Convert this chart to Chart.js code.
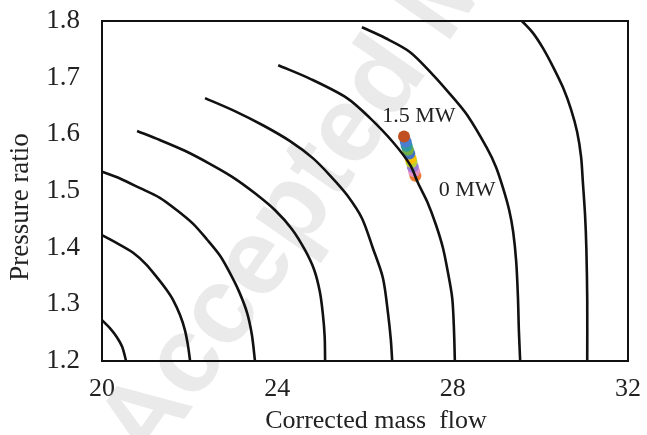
<!DOCTYPE html>
<html>
<head>
<meta charset="utf-8">
<script src="https://cdn.jsdelivr.net/npm/chart.js@4.4.1/dist/chart.umd.min.js"></script>
<style>
  html, body { margin: 0; padding: 0; background: #fff; }
  #wrap { width: 647px; height: 435px; }
</style>
</head>
<body>
<div id="wrap"><canvas id="map" width="647" height="435"></canvas></div>
<script>
// Compressor map: constant-speed lines (corrected mass flow vs pressure ratio)
const speedLine1 = [[20.0, 1.272], [20.18, 1.258], [20.34, 1.242], [20.46, 1.225], [20.55, 1.2]];
const speedLine2 = [[20.0, 1.422], [20.34, 1.408], [20.71, 1.391], [21.00, 1.371], [21.25, 1.348], [21.46, 1.327],
                    [21.62, 1.308], [21.78, 1.281], [21.89, 1.255], [21.96, 1.228], [22.01, 1.2]];
const speedLine3 = [[20.0, 1.534], [20.41, 1.522], [20.87, 1.505], [21.32, 1.488], [21.71, 1.466], [22.08, 1.442],
                    [22.40, 1.414], [22.69, 1.386], [22.92, 1.355], [23.13, 1.322], [23.31, 1.285], [23.42, 1.246], [23.49, 1.2]];
const speedLine4 = [[20.80, 1.606], [21.32, 1.590], [21.89, 1.571], [22.46, 1.548], [22.97, 1.525], [23.49, 1.496],
                    [23.95, 1.466], [24.33, 1.433], [24.63, 1.396], [24.84, 1.361], [24.97, 1.322], [25.04, 1.282],
                    [25.08, 1.243], [25.09, 1.2]];
const speedLine5 = [[22.35, 1.664], [23.03, 1.641], [23.67, 1.616], [24.29, 1.588], [24.81, 1.558], [25.22, 1.526],
                    [25.59, 1.493], [25.93, 1.452], [26.18, 1.399], [26.41, 1.346], [26.53, 1.281], [26.59, 1.237], [26.62, 1.2]];
const speedLine6 = [[24.02, 1.722], [24.75, 1.698], [25.59, 1.664], [26.11, 1.629], [26.64, 1.586], [27.03, 1.546],
                    [27.21, 1.514], [27.42, 1.481], [27.62, 1.440], [27.78, 1.399], [27.89, 1.357], [27.99, 1.311],
                    [28.03, 1.255], [28.05, 1.2]];
const speedLine7 = [[25.93, 1.789], [26.46, 1.770], [27.03, 1.745], [27.55, 1.705], [27.94, 1.671], [28.33, 1.634],
                    [28.78, 1.576], [28.99, 1.542], [29.15, 1.505], [29.29, 1.466], [29.38, 1.428], [29.45, 1.375],
                    [29.49, 1.311], [29.51, 1.255], [29.54, 1.2]];
const speedLine8 = [[29.58, 1.800], [29.83, 1.779], [30.06, 1.752], [30.29, 1.719], [30.52, 1.682], [30.70, 1.644],
                    [30.84, 1.604], [30.93, 1.560], [30.97, 1.516], [31.02, 1.458], [31.05, 1.399], [31.07, 1.307], [31.07, 1.2]];

// Operating points from 0 MW (first) to 1.5 MW (last)
const opFlow  = [27.15, 27.12, 27.09, 27.06, 27.04, 27.01, 26.98, 26.95, 26.93, 26.89];
const opRatio = [1.527, 1.535, 1.543, 1.551, 1.558, 1.566, 1.573, 1.580, 1.587, 1.596];
const opColors = ['#ed7d31', '#e58fc4', '#9b7bd6', '#b7d234', '#ffc000', '#4472c4', '#70ad47', '#2f9c9c', '#4a7fd0', '#c0501f'];

// Tick values
const xTicks = [20, 24, 28, 32];
const yTicks = [1.2, 1.3, 1.4, 1.5, 1.6, 1.7, 1.8];

// Power labels beside the operating points
const powerLabels = [
  { text: '1.5 MW', x: 27.23, y: 1.632 },
  { text: '0 MW', x: 28.33, y: 1.502 }
];

const speedLines = [speedLine1, speedLine2, speedLine3, speedLine4, speedLine5, speedLine6, speedLine7, speedLine8];

const datasets = speedLines.map(line => ({
  type: 'scatter',
  data: line.map(p => ({ x: p[0], y: p[1] })),
  showLine: true,
  borderColor: '#111',
  borderWidth: 2.6,
  pointRadius: 0,
  tension: 0.3,
  fill: false,
  clip: false
}));

datasets.push({
  type: 'scatter',
  data: opFlow.map((x, i) => ({ x, y: opRatio[i] })),
  showLine: false,
  pointRadius: 6,
  pointBackgroundColor: opColors,
  pointBorderWidth: 0,
  pointBorderColor: opColors
});

const serif = "'Liberation Serif', 'Times New Roman', serif";

const decorations = {
  id: 'decorations',
  beforeDatasetsDraw(chart) {
    const ctx = chart.ctx;
    ctx.save();
    ctx.translate(150, 468);
    ctx.rotate(-55 * Math.PI / 180);
    ctx.font = "bold 108px 'Liberation Sans', Arial, sans-serif";
    ctx.fillStyle = 'rgba(205, 205, 205, 0.42)';
    ctx.textAlign = 'left';
    ctx.textBaseline = 'alphabetic';
    ctx.fillText('Accepted Manuscript', 0, 0);
    ctx.restore();
  },
  afterDatasetsDraw(chart) {
    const ctx = chart.ctx;
    const a = chart.chartArea;
    const xs = chart.scales.x, ys = chart.scales.y;
    ctx.save();
    ctx.fillStyle = '#222';
    ctx.textAlign = 'center';
    ctx.textBaseline = 'middle';
    ctx.font = '22px ' + serif;
    powerLabels.forEach(l => ctx.fillText(l.text, xs.getPixelForValue(l.x), ys.getPixelForValue(l.y)));

    // axis titles
    ctx.font = '26px ' + serif;
    ctx.fillText('Corrected mass  flow', 376, 421);
    ctx.save();
    ctx.translate(21, 207);
    ctx.rotate(-Math.PI / 2);
    ctx.font = '27px ' + serif;
    ctx.fillText('Pressure ratio', 0, 0);
    ctx.restore();

    ctx.strokeStyle = '#111';
    ctx.lineWidth = 2;
    ctx.strokeRect(a.left, a.top, a.right - a.left, a.bottom - a.top);
    ctx.restore();
  }
};

new Chart(document.getElementById('map'), {
  type: 'scatter',
  data: { datasets },
  options: {
    responsive: false,
    animation: false,
    layout: { padding: { left: 0, right: 19, top: 21, bottom: 0 } },
    plugins: { legend: { display: false }, tooltip: { enabled: false } },
    scales: {
      x: {
        type: 'linear',
        min: 20, max: 32,
        afterBuildTicks: s => { s.ticks = xTicks.map(v => ({ value: v })); },
        afterFit: s => { s.height = 74; s.paddingLeft = 0; s.paddingRight = 0; },
        grid: { display: false, drawTicks: false },
        border: { display: false },
        ticks: { padding: 13, color: '#222', font: { family: serif, size: 26 } }
      },
      y: {
        type: 'linear',
        min: 1.2, max: 1.8,
        afterBuildTicks: s => { s.ticks = yTicks.map(v => ({ value: v })); },
        afterFit: s => { s.width = 102; s.paddingTop = 0; s.paddingBottom = 0; },
        grid: { display: false, drawTicks: false },
        border: { display: false },
        ticks: { padding: 22, color: '#222', font: { family: serif, size: 27 }, callback: v => v.toFixed(1) }
      }
    }
  },
  plugins: [decorations]
});
</script>
</body>
</html>
